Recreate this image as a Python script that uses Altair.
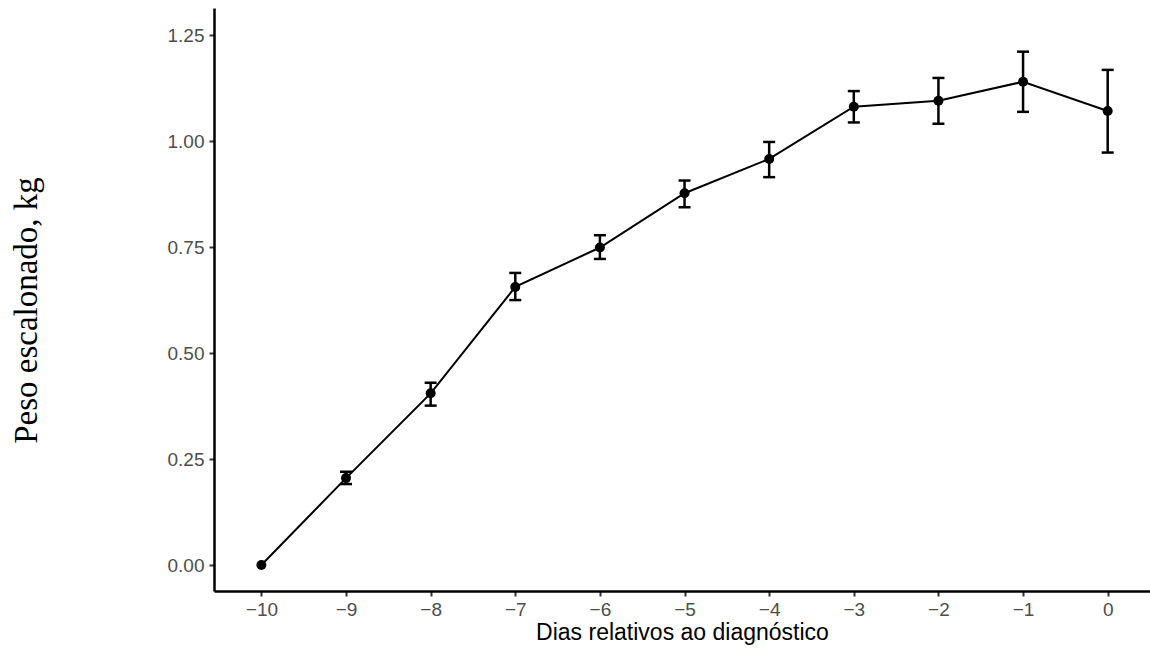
import altair as alt
import pandas as pd

days = [-10, -9, -8, -7, -6, -5, -4, -3, -2, -1, 0]
mean = [0.000, 0.205, 0.405, 0.656, 0.749, 0.877, 0.958, 1.081, 1.095, 1.140, 1.071]
upper = [0.000, 0.220, 0.430, 0.689, 0.778, 0.907, 0.998, 1.118, 1.149, 1.211, 1.168]
lower = [0.000, 0.191, 0.376, 0.625, 0.722, 0.844, 0.915, 1.044, 1.041, 1.069, 0.973]

df = pd.DataFrame({"dia": days, "peso": mean, "hi": upper, "lo": lower})
df_err = df[df["dia"] != -10]

W, H = 936, 583
xscale = alt.Scale(domain=[-10.56, 0.5], nice=False, zero=False)
yscale = alt.Scale(domain=[-0.0613, 1.314], nice=False, zero=False)

xaxis = alt.Axis(values=days, format="d", title="Dias relativos ao diagnóstico",
                 grid=False, domainColor="black", domainWidth=2.5,
                 tickColor="#333333", tickWidth=2, tickSize=5,
                 labelFont="Liberation Sans", labelFontSize=19, labelColor="#4D4D4D",
                 labelPadding=4, titleFont="Liberation Sans", titleFontSize=23,
                 titleFontWeight="normal", titleColor="black", titlePadding=2)
yaxis = alt.Axis(values=[0, 0.25, 0.5, 0.75, 1.0, 1.25], format=".2f",
                 title="Peso escalonado, kg",
                 grid=False, domainColor="black", domainWidth=2.5,
                 tickColor="#333333", tickWidth=2, tickSize=5,
                 labelFont="Liberation Sans", labelFontSize=19, labelColor="#4D4D4D",
                 labelPadding=5, titleFont="Liberation Serif", titleFontSize=33,
                 titleFontWeight="normal", titleColor="black",
                 titleX=-188, titleY=302, titleBaseline="middle", titleAngle=-90)

base = alt.Chart(df)
line = base.mark_line(color="black", strokeWidth=2).encode(
    x=alt.X("dia:Q", scale=xscale, axis=xaxis),
    y=alt.Y("peso:Q", scale=yscale, axis=yaxis),
)
pts = base.mark_point(filled=True, color="black", size=100, opacity=1).encode(
    x=alt.X("dia:Q", scale=xscale),
    y=alt.Y("peso:Q", scale=yscale),
)
errb = alt.Chart(df_err)
rule = errb.mark_rule(color="black", strokeWidth=2.5).encode(
    x=alt.X("dia:Q", scale=xscale),
    y=alt.Y("lo:Q", scale=yscale),
    y2="hi:Q",
)
cap_hi = errb.mark_tick(color="black", orient="horizontal", size=12, thickness=2.5, opacity=1).encode(
    x=alt.X("dia:Q", scale=xscale),
    y=alt.Y("hi:Q", scale=yscale),
)
cap_lo = errb.mark_tick(color="black", orient="horizontal", size=12, thickness=2.5, opacity=1).encode(
    x=alt.X("dia:Q", scale=xscale),
    y=alt.Y("lo:Q", scale=yscale),
)

chart = alt.layer(line, rule, cap_hi, cap_lo, pts).properties(
    width=W, height=H,
    autosize=alt.AutoSizeParams(type="none"),
    padding={"left": 214, "top": 8, "right": 0, "bottom": 57},
).configure(background="white").configure_view(strokeWidth=0, stroke="transparent")

chart.save("out.html", embed_options={"renderer": "svg", "actions": False})
